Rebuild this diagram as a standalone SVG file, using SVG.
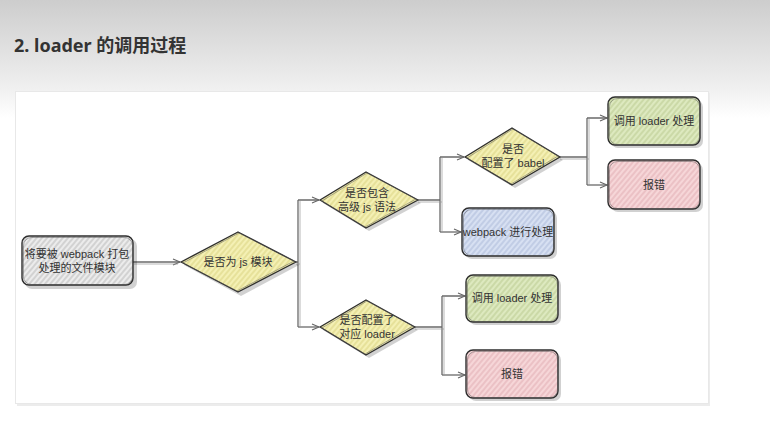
<svg xmlns="http://www.w3.org/2000/svg" width="770" height="422" viewBox="0 0 770 422">
<defs>
<linearGradient id="bg" x1="0" y1="0" x2="0" y2="422" gradientUnits="userSpaceOnUse">
<stop offset="0" stop-color="#cdcdcd"/>
<stop offset="0.21" stop-color="#f0f0f0"/>
<stop offset="0.28" stop-color="#ffffff"/>
<stop offset="1" stop-color="#ffffff"/>
</linearGradient>
<pattern id="hg" width="4" height="4" patternUnits="userSpaceOnUse" patternTransform="rotate(40)"><rect width="4" height="4" fill="#ececec"/><line x1="1" y1="0" x2="1" y2="4" stroke="#bdbdbd" stroke-width="1.1"/></pattern>
<pattern id="hy" width="4" height="4" patternUnits="userSpaceOnUse" patternTransform="rotate(40)"><rect width="4" height="4" fill="#f4f0b4"/><line x1="1" y1="0" x2="1" y2="4" stroke="#dcd684" stroke-width="1.1"/></pattern>
<pattern id="hgr" width="4" height="4" patternUnits="userSpaceOnUse" patternTransform="rotate(40)"><rect width="4" height="4" fill="#dde9bf"/><line x1="1" y1="0" x2="1" y2="4" stroke="#bccd93" stroke-width="1.1"/></pattern>
<pattern id="hr" width="4" height="4" patternUnits="userSpaceOnUse" patternTransform="rotate(40)"><rect width="4" height="4" fill="#f6d6d8"/><line x1="1" y1="0" x2="1" y2="4" stroke="#e2b0b5" stroke-width="1.1"/></pattern>
<pattern id="hb" width="4" height="4" patternUnits="userSpaceOnUse" patternTransform="rotate(40)"><rect width="4" height="4" fill="#d7e0f2"/><line x1="1" y1="0" x2="1" y2="4" stroke="#afbddb" stroke-width="1.1"/></pattern>
<marker id="arr" markerWidth="10" markerHeight="8" refX="8" refY="4" orient="auto" markerUnits="userSpaceOnUse">
<path d="M1,1 L8,4 L1,7" fill="none" stroke="#666" stroke-width="1.1"/>
</marker>
</defs>
<style>
.t{font-family:"Liberation Sans","Noto Sans CJK SC",sans-serif;font-size:11px;fill:#333;text-anchor:middle}
.title{font-family:"Noto Sans","Noto Sans CJK SC",sans-serif;font-size:18px;font-weight:bold;fill:#333}
.sh{fill:#000;opacity:0.18}
.o{stroke:#2e2e2e;stroke-width:1.4;stroke-linejoin:round}
.o2{fill:none;stroke:#555;stroke-width:0.7;opacity:0.7}
.c{fill:none;stroke:#6a6a6a;stroke-width:1.3}
.c2{fill:none;stroke:#9a9a9a;stroke-width:0.7}
</style>
<rect width="770" height="422" fill="url(#bg)"/>
<text class="title" x="14" y="52">2. loader 的调用过程</text>
<rect x="17" y="93" width="693" height="313" fill="#ececec"/>
<rect x="15.5" y="91.5" width="693" height="312" fill="#fff" stroke="#e8e8e8"/>

<g id="connectors">
<path class="c" d="M133,262 H180" marker-end="url(#arr)"/>
<path class="c2" d="M134,264 H178"/>
<path class="c" d="M296,262 H298 M298,200 V327 M298,200 H319" marker-end="url(#arr)"/>
<path class="c" d="M298,327 H319" marker-end="url(#arr)"/>
<path class="c2" d="M296,264 H300 M300,201 V328"/>
<path class="c" d="M418,200 H440 M440,157 V232 M440,157 H464" marker-end="url(#arr)"/>
<path class="c" d="M440,232 H461" marker-end="url(#arr)"/>
<path class="c2" d="M418,202 H442 M442,158 V233"/>
<path class="c" d="M560,157 H587 M587,118 V185 M587,118 H607" marker-end="url(#arr)"/>
<path class="c" d="M587,185 H607" marker-end="url(#arr)"/>
<path class="c2" d="M560,159 H589 M589,119 V186"/>
<path class="c" d="M415,327 H442 M442,296 V375 M442,296 H465" marker-end="url(#arr)"/>
<path class="c" d="M442,375 H465" marker-end="url(#arr)"/>
<path class="c2" d="M415,329 H444 M444,297 V376"/>
</g>

<g id="start">
<rect class="sh" x="25" y="239" width="112" height="50" rx="7"/>
<rect class="o" x="22" y="236" width="111" height="49" rx="7" fill="url(#hg)"/>
<rect class="o2" x="23.5" y="237.5" width="109" height="47" rx="8"/>
<text class="t" x="77" y="258">将要被 webpack 打包</text>
<text class="t" x="77" y="272">处理的文件模块</text>
</g>

<g id="d1">
<path class="sh" d="M184,265 L241,236 L299,265 L241,296 Z"/>
<path class="o" d="M181,262 L238,232 L296,262 L238,292 Z" fill="url(#hy)"/>
<path class="o2" d="M183,263 L239,233 L294,261 L237,291 Z"/>
<text class="t" x="238" y="266">是否为 js 模块</text>
</g>

<g id="d2">
<path class="sh" d="M323,203 L369,175 L421,203 L369,231 Z"/>
<path class="o" d="M320,200 L366,172 L418,200 L366,228 Z" fill="url(#hy)"/>
<path class="o2" d="M322,201 L367,173 L416,199 L365,227 Z"/>
<text class="t" x="367" y="197">是否包含</text>
<text class="t" x="367" y="211">高级 js 语法</text>
</g>

<g id="d3">
<path class="sh" d="M323,330 L369,303 L418,330 L369,358 Z"/>
<path class="o" d="M320,327 L366,300 L415,327 L366,355 Z" fill="url(#hy)"/>
<path class="o2" d="M322,328 L367,301 L413,326 L365,354 Z"/>
<text class="t" x="367" y="324">是否配置了</text>
<text class="t" x="367" y="338">对应 loader</text>
</g>

<g id="d4">
<path class="sh" d="M468,160 L515,131 L563,160 L515,188 Z"/>
<path class="o" d="M465,157 L512,128 L560,157 L512,185 Z" fill="url(#hy)"/>
<path class="o2" d="M467,158 L513,129 L558,156 L511,184 Z"/>
<text class="t" x="513" y="153">是否</text>
<text class="t" x="513" y="167">配置了 babel</text>
</g>

<g id="webpack">
<rect class="sh" x="465" y="211" width="92" height="48" rx="7"/>
<rect class="o" x="462" y="208" width="92" height="48" rx="7" fill="url(#hb)"/>
<rect class="o2" x="463.5" y="209.5" width="90" height="46" rx="8"/>
<text class="t" x="508" y="236">webpack 进行处理</text>
</g>

<g id="ok1">
<rect class="sh" x="611" y="100" width="92" height="48" rx="7"/>
<rect class="o" x="608" y="97" width="92" height="48" rx="7" fill="url(#hgr)"/>
<rect class="o2" x="609.5" y="98.5" width="90" height="46" rx="8"/>
<text class="t" x="654" y="125">调用 loader 处理</text>
</g>

<g id="err1">
<rect class="sh" x="611" y="163" width="92" height="49" rx="7"/>
<rect class="o" x="608" y="160" width="92" height="49" rx="7" fill="url(#hr)"/>
<rect class="o2" x="609.5" y="161.5" width="90" height="47" rx="8"/>
<text class="t" x="654" y="189">报错</text>
</g>

<g id="ok2">
<rect class="sh" x="469" y="278" width="92" height="47" rx="7"/>
<rect class="o" x="466" y="275" width="92" height="47" rx="7" fill="url(#hgr)"/>
<rect class="o2" x="467.5" y="276.5" width="90" height="45" rx="8"/>
<text class="t" x="512" y="302">调用 loader 处理</text>
</g>

<g id="err2">
<rect class="sh" x="469" y="353" width="92" height="48" rx="7"/>
<rect class="o" x="466" y="350" width="92" height="48" rx="7" fill="url(#hr)"/>
<rect class="o2" x="467.5" y="351.5" width="90" height="46" rx="8"/>
<text class="t" x="512" y="378">报错</text>
</g>
</svg>
